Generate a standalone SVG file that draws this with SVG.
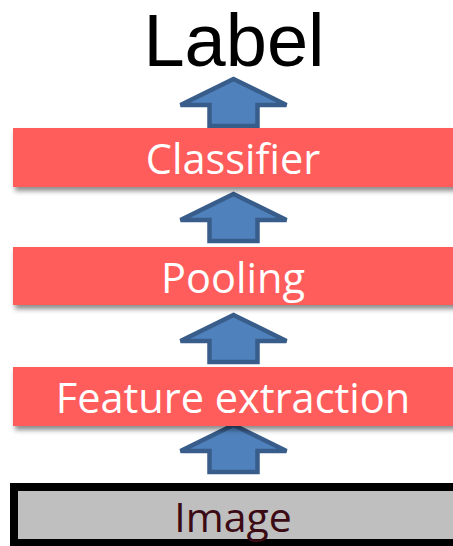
<svg xmlns="http://www.w3.org/2000/svg" width="453" height="546" viewBox="0 0 453 546">
  <style>
    .layer { fill: #FF5B5B; filter: url(#shadow); }
    .layer-text { font-family: "Open Sans", "Noto Sans", sans-serif; font-size: 41.5px; fill: #FFFFFF; text-anchor: middle; }
    .up { fill: #4F81BD; stroke: #385D8A; stroke-width: 4.5; stroke-linejoin: miter; }
  </style>
  <defs>
    <filter id="shadow" x="-5%" y="-20%" width="110%" height="160%">
      <feDropShadow dx="2" dy="4" stdDeviation="2.5" flood-color="#000000" flood-opacity="0.45"/>
    </filter>
    <path id="uparrow" class="up" d="M0,2 L53,28 L24,28 L24,49 L-24,49 L-24,28 L-53,28 Z"/>
  </defs>

  <rect width="453" height="546" fill="#FFFFFF"/>

  <!-- output label -->
  <g id="label">
    <text x="234" y="66" font-family="'Liberation Sans', Arial, sans-serif" font-size="74" fill="#000000" text-anchor="middle">Label</text>
  </g>

  <!-- upward arrows between stages -->
  <g id="connectors">
    <use href="#uparrow" x="233.5" y="77"/>
    <use href="#uparrow" x="233.5" y="192"/>
    <use href="#uparrow" x="233.5" y="313"/>
    <use href="#uparrow" x="233.5" y="423"/>
  </g>

  <g id="classifier">
    <rect class="layer" x="13" y="128" width="445" height="59"/>
    <text class="layer-text" x="233" y="174">Classifier</text>
  </g>

  <g id="pooling">
    <rect class="layer" x="13" y="247" width="445" height="58"/>
    <text class="layer-text" x="233" y="293">Pooling</text>
  </g>

  <g id="feature-extraction">
    <rect class="layer" x="13" y="367" width="445" height="59"/>
    <text class="layer-text" x="233" y="413">Feature extraction</text>
  </g>

  <g id="image">
    <rect x="14" y="487" width="445" height="56" fill="#BFBFBF" stroke="#000000" stroke-width="8"/>
    <text x="233" y="532" font-family="'Open Sans', 'Noto Sans', sans-serif" font-size="41" fill="#3B0A14" text-anchor="middle">Image</text>
  </g>
</svg>
